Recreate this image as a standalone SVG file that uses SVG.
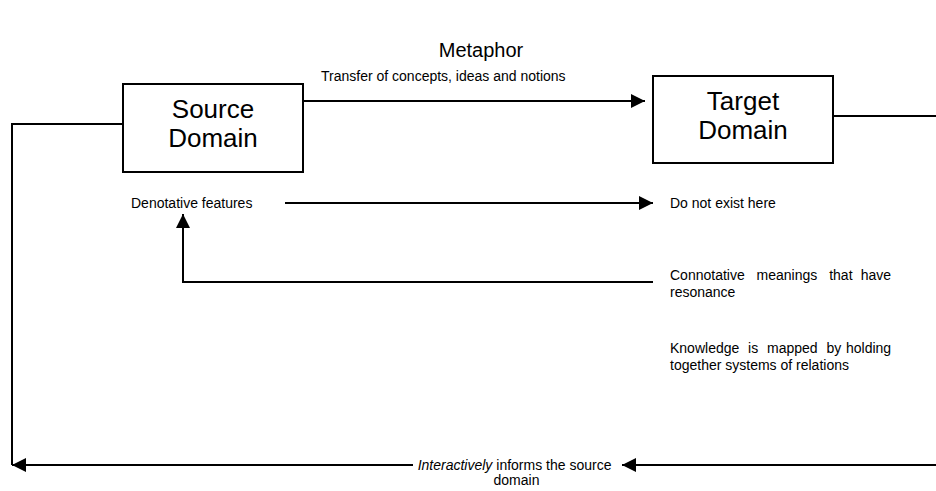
<svg xmlns="http://www.w3.org/2000/svg" width="936" height="491" viewBox="0 0 936 491">
  <style>
    text { font-family: "Liberation Sans", Arial, sans-serif; fill: #000; }
    .title { font-size: 20px; }
    .big { font-size: 26px; }
    .small { font-size: 14px; }
    .box { fill: #fff; stroke: #000; stroke-width: 2; }
    .wire { fill: none; stroke: #000; stroke-width: 2; }
  </style>
  <defs>
    <marker id="head" markerUnits="userSpaceOnUse" markerWidth="14" markerHeight="14" refX="14" refY="7" orient="auto">
      <path d="M0,0 L14,7 L0,14 z" fill="#000"/>
    </marker>
  </defs>

  <rect width="936" height="491" fill="#fff"/>

  <text class="title" x="481" y="57" text-anchor="middle">Metaphor</text>

  <!-- connectors -->
  <g id="connectors">
    <path class="wire" d="M303,101 H645" marker-end="url(#head)"/>
    <path class="wire" d="M123,124 H12 V465"/>
    <path class="wire" d="M413,465 H12" marker-end="url(#head)"/>
    <path class="wire" d="M833,116 H940"/>
    <path class="wire" d="M940,465 H622" marker-end="url(#head)"/>
    <path class="wire" d="M285,203 H653" marker-end="url(#head)"/>
    <path class="wire" d="M653,282 H183 V214" marker-end="url(#head)"/>
  </g>

  <g id="source-domain">
    <rect class="box" x="123" y="84" width="180" height="88"/>
    <text class="big" text-anchor="middle"><tspan x="213" y="118">Source</tspan><tspan x="213" y="147">Domain</tspan></text>
  </g>

  <g id="target-domain">
    <rect class="box" x="653" y="76" width="180" height="87"/>
    <text class="big" text-anchor="middle"><tspan x="743" y="110">Target</tspan><tspan x="743" y="139">Domain</tspan></text>
  </g>

  <g id="transfer-label">
    <text class="small" x="321" y="81">Transfer of concepts, ideas and notions</text>
  </g>

  <g id="denotative">
    <text class="small" x="131" y="208">Denotative features</text>
  </g>

  <g id="not-exist">
    <text class="small" x="670" y="208">Do not exist here</text>
  </g>

  <!-- justified paragraph: words spread across 670..895 -->
  <g id="connotative">
    <text class="small">
      <tspan x="670" y="280">Connotative</tspan>
      <tspan x="756.6" y="280">meanings</tspan>
      <tspan x="829.2" y="280">that</tspan>
      <tspan x="895" y="280" text-anchor="end">have</tspan>
      <tspan x="670" y="297">resonance</tspan>
    </text>
  </g>

  <g id="knowledge">
    <text class="small">
      <tspan x="670" y="353">Knowledge</tspan>
      <tspan x="748.1" y="353">is</tspan>
      <tspan x="767" y="353">mapped</tspan>
      <tspan x="826.4" y="353">by</tspan>
      <tspan x="895" y="353" text-anchor="end">holding</tspan>
      <tspan x="670" y="370">together systems of relations</tspan>
    </text>
  </g>

  <g id="interactive-label">
    <text class="small" text-anchor="middle">
      <tspan x="516.5" y="470"><tspan font-style="italic">Interactively</tspan> informs the source</tspan>
      <tspan x="516.5" y="485">domain</tspan>
    </text>
  </g>
</svg>
